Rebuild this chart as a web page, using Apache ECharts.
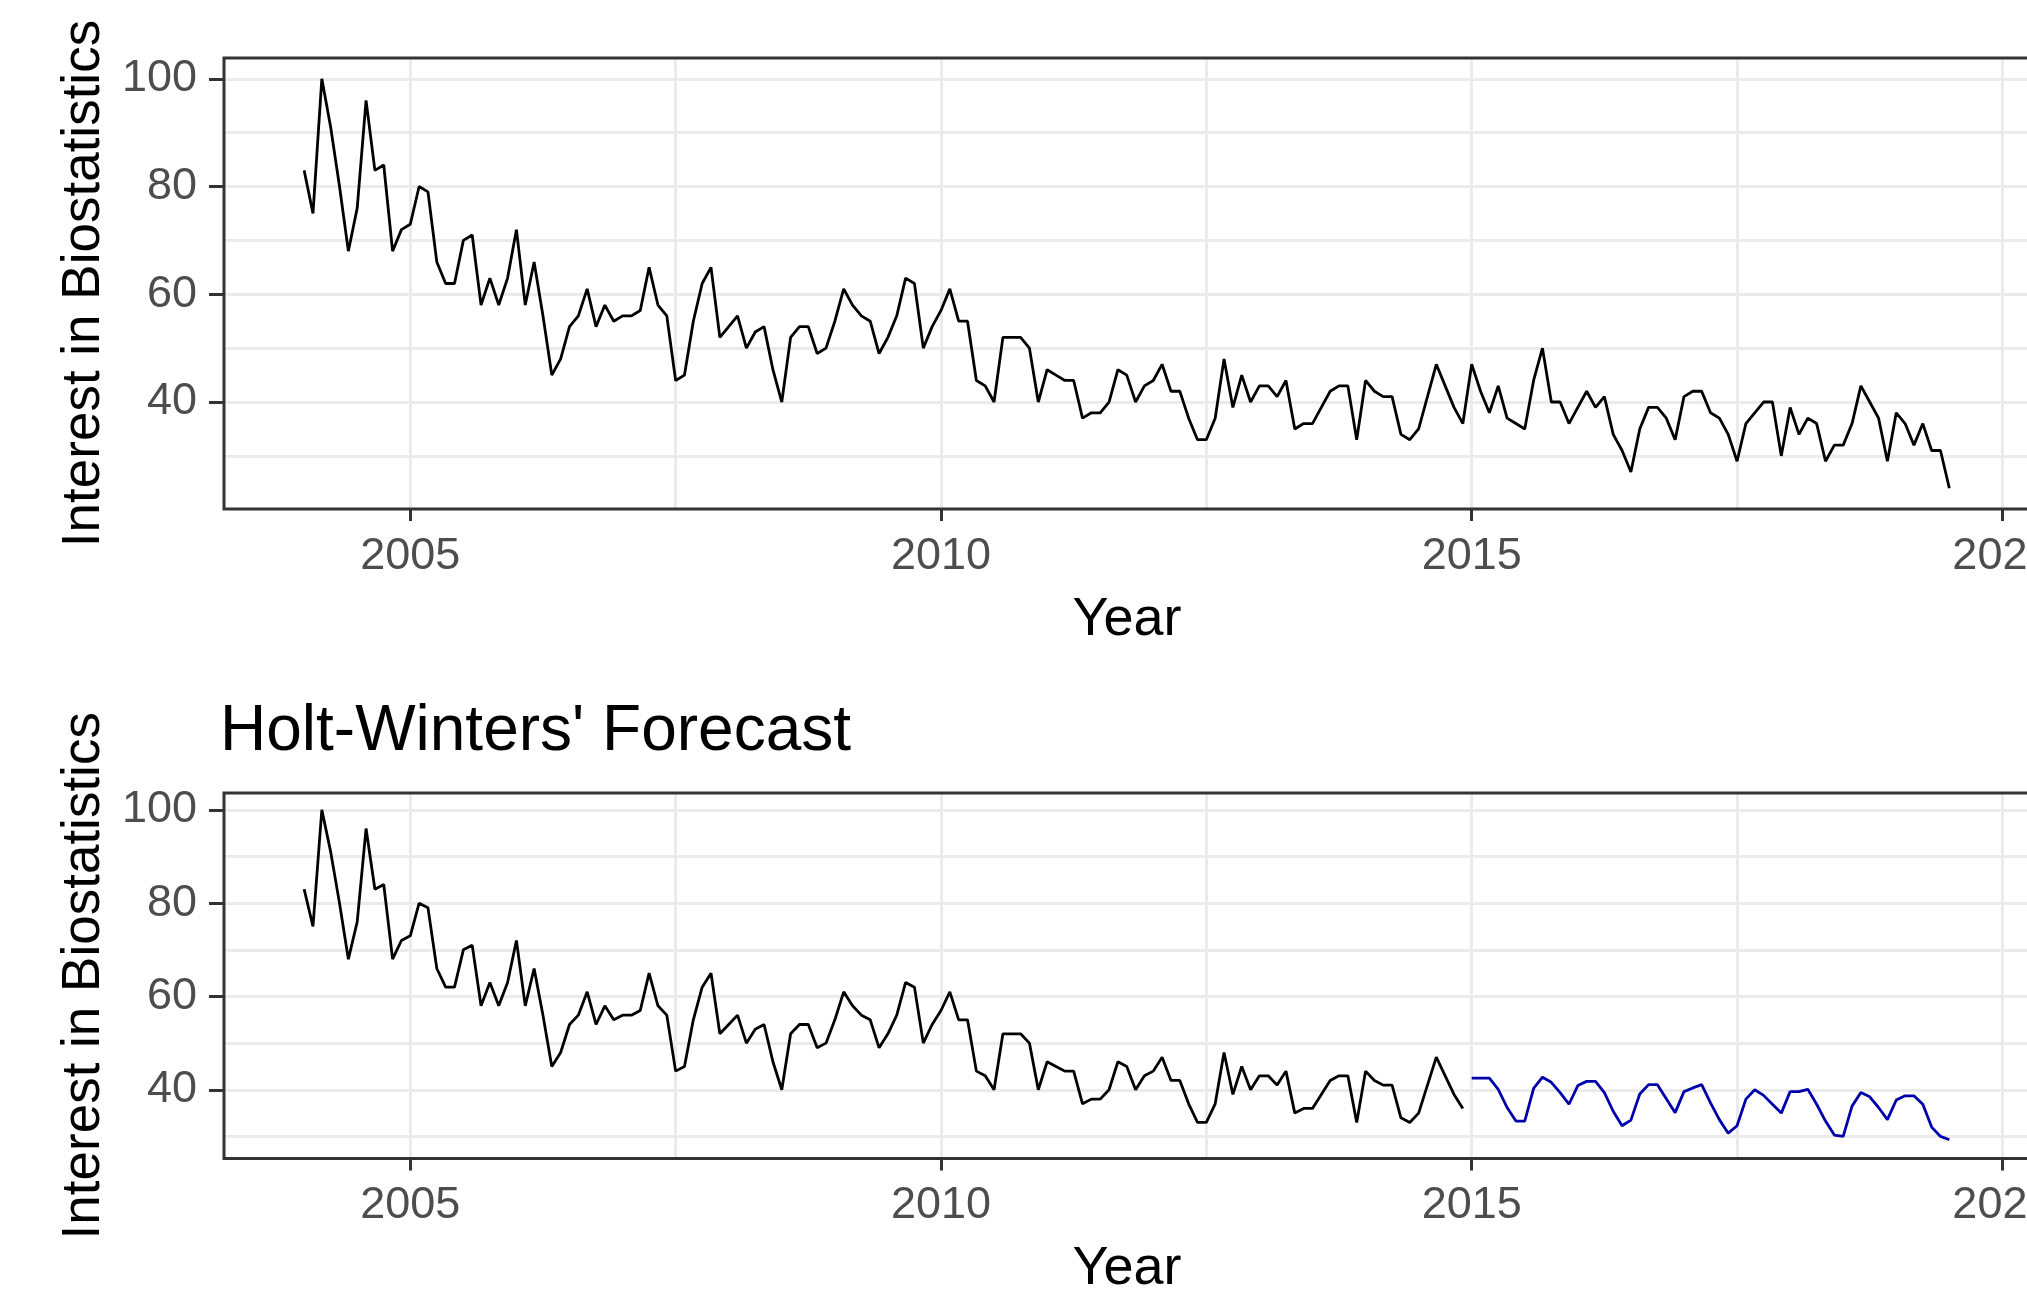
<!DOCTYPE html>
<html>
<head>
<meta charset="utf-8">
<script src="https://cdn.jsdelivr.net/npm/echarts@6/dist/echarts.min.js"></script>
<style>
  html, body { margin: 0; padding: 0; background: #fff; }
  #main { width: 2027px; height: 1293px; }
</style>
</head>
<body>
<div id="main"></div>
<script>
// monthly search interest, Jan 2004 .. Jul 2019
const startYear = 2004;
const interest = [
  83, 75, 100, 91, 80, 68, 76, 96, 83, 84, 68, 72,   // 2004
  73, 80, 79, 66, 62, 62, 70, 71, 58, 63, 58, 63,    // 2005
  72, 58, 66, 56, 45, 48, 54, 56, 61, 54, 58, 55,    // 2006
  56, 56, 57, 65, 58, 56, 44, 45, 55, 62, 65, 52,    // 2007
  54, 56, 50, 53, 54, 46, 40, 52, 54, 54, 49, 50,    // 2008
  55, 61, 58, 56, 55, 49, 52, 56, 63, 62, 50, 54,    // 2009
  57, 61, 55, 55, 44, 43, 40, 52, 52, 52, 50, 40,    // 2010
  46, 45, 44, 44, 37, 38, 38, 40, 46, 45, 40, 43,    // 2011
  44, 47, 42, 42, 37, 33, 33, 37, 48, 39, 45, 40,    // 2012
  43, 43, 41, 44, 35, 36, 36, 39, 42, 43, 43, 33,    // 2013
  44, 42, 41, 41, 34, 33, 35, 41, 47, 43, 39, 36,    // 2014
  47, 42, 38, 43, 37, 36, 35, 44, 50, 40, 40, 36,    // 2015
  39, 42, 39, 41, 34, 31, 27, 35, 39, 39, 37, 33,    // 2016
  41, 42, 42, 38, 37, 34, 29, 36, 38, 40, 40, 30,    // 2017
  39, 34, 37, 36, 29, 32, 32, 36, 43, 40, 37, 29,    // 2018
  38, 36, 32, 36, 31, 31, 24                         // 2019
];
// training window ends Dec 2014
const trainMonths = 132;
// Holt-Winters point forecast, Jan 2015 .. Jul 2019
const hwForecast = [
  42.5, 42.5, 42.5, 40.1, 36.2, 33.3, 33.3, 40.3, 42.7, 41.6, 39.4, 36.9,
  40.9, 41.8, 41.8, 39.4, 35.4, 32.3, 33.5, 39.1, 41.1, 41.1, 38.1, 35.1,
  39.6, 40.4, 41.1, 37.2, 33.6, 30.7, 32.3, 38.0, 40.0, 38.8, 36.9, 35.0,
  39.6, 39.6, 40.1, 36.9, 33.3, 30.3, 30.0, 36.5, 39.4, 38.5, 36.2, 33.6,
  37.8, 38.7, 38.7, 36.9, 32.0, 30.0, 29.3
];

const xTicks = [2005, 2010, 2015, 2020];
const xMinor = [2007.5, 2012.5, 2017.5];
const yTicks = [40, 60, 80, 100];
const yMinor = [30, 50, 70, 90];
const xRange = [2003.245, 2020.26];
const yRangeTop = [20.14, 103.86];
const yRangeBottom = [25.27, 103.62];

const font = 'Liberation Sans, Arial, Helvetica, sans-serif';

const toPoints = (vals, offset) => vals.map((v, i) => [startYear + (offset + i) / 12, v]);

function xAxisFor(gridIndex) {
  return {
    type: 'value',
    gridIndex: gridIndex,
    min: xRange[0],
    max: xRange[1],
    name: 'Year',
    nameLocation: 'middle',
    nameGap: 84,
    nameTextStyle: { fontSize: 54, color: '#000', fontFamily: font },
    axisLine: { show: false },
    axisTick: { show: true, customValues: xTicks, length: 12, lineStyle: { color: '#333', width: 3 } },
    axisLabel: {
      customValues: xTicks, color: '#4D4D4D', fontSize: 45, margin: 25, fontFamily: font,
      formatter: v => String(v)
    },
    splitLine: { show: false }
  };
}

function yAxisFor(gridIndex, range) {
  return {
    type: 'value',
    gridIndex: gridIndex,
    min: range[0],
    max: range[1],
    name: 'Interest in Biostatistics',
    nameLocation: 'middle',
    nameGap: 113,
    nameTextStyle: { fontSize: 53, color: '#000', fontFamily: font },
    axisLine: { show: false },
    axisTick: { show: true, customValues: yTicks, length: 15, lineStyle: { color: '#333', width: 3 } },
    axisLabel: {
      customValues: yTicks, color: '#4D4D4D', fontSize: 45, margin: 27, padding: [7, 0, 0, 0],
      fontFamily: font, formatter: v => String(v)
    },
    splitLine: { show: false }
  };
}

// panel grid lines (major + minor), drawn under the data
function gridLines() {
  return {
    silent: true,
    z: 1,
    symbol: ['none', 'none'],
    label: { show: false },
    emphasis: { disabled: true },
    lineStyle: { color: '#EBEBEB', width: 3, type: 'solid' },
    data: xTicks.concat(xMinor).map(v => ({ xAxis: v }))
      .concat(yTicks.concat(yMinor).map(v => ({ yAxis: v })))
  };
}

const chart = echarts.init(document.getElementById('main'), null, { renderer: 'canvas' });

chart.setOption({
  animation: false,
  backgroundColor: '#fff',
  title: {
    text: "Holt-Winters' Forecast",
    left: 220,
    top: 700,
    padding: 0,
    textStyle: { fontSize: 64, fontWeight: 'normal', color: '#000', fontFamily: font }
  },
  grid: [
    { left: 224, top: 58, width: 1806, height: 451, show: true, z: 4, outerBoundsMode: 'none',
      containLabel: false, backgroundColor: 'transparent', borderColor: '#333', borderWidth: 3 },
    { left: 224, top: 793, width: 1806, height: 365.5, show: true, z: 4, outerBoundsMode: 'none',
      containLabel: false, backgroundColor: 'transparent', borderColor: '#333', borderWidth: 3 }
  ],
  xAxis: [xAxisFor(0), xAxisFor(1)],
  yAxis: [yAxisFor(0, yRangeTop), yAxisFor(1, yRangeBottom)],
  series: [
    {
      type: 'line',
      xAxisIndex: 0,
      yAxisIndex: 0,
      data: toPoints(interest, 0),
      showSymbol: false,
      z: 3,
      lineStyle: { color: '#000', width: 2.8 },
      markLine: gridLines()
    },
    {
      type: 'line',
      xAxisIndex: 1,
      yAxisIndex: 1,
      data: toPoints(interest.slice(0, trainMonths), 0),
      showSymbol: false,
      z: 3,
      lineStyle: { color: '#000', width: 2.8 },
      markLine: gridLines()
    },
    {
      type: 'line',
      xAxisIndex: 1,
      yAxisIndex: 1,
      data: toPoints(hwForecast, trainMonths),
      showSymbol: false,
      z: 3,
      lineStyle: { color: '#0000AA', width: 2.8 }
    }
  ]
});
</script>
</body>
</html>
